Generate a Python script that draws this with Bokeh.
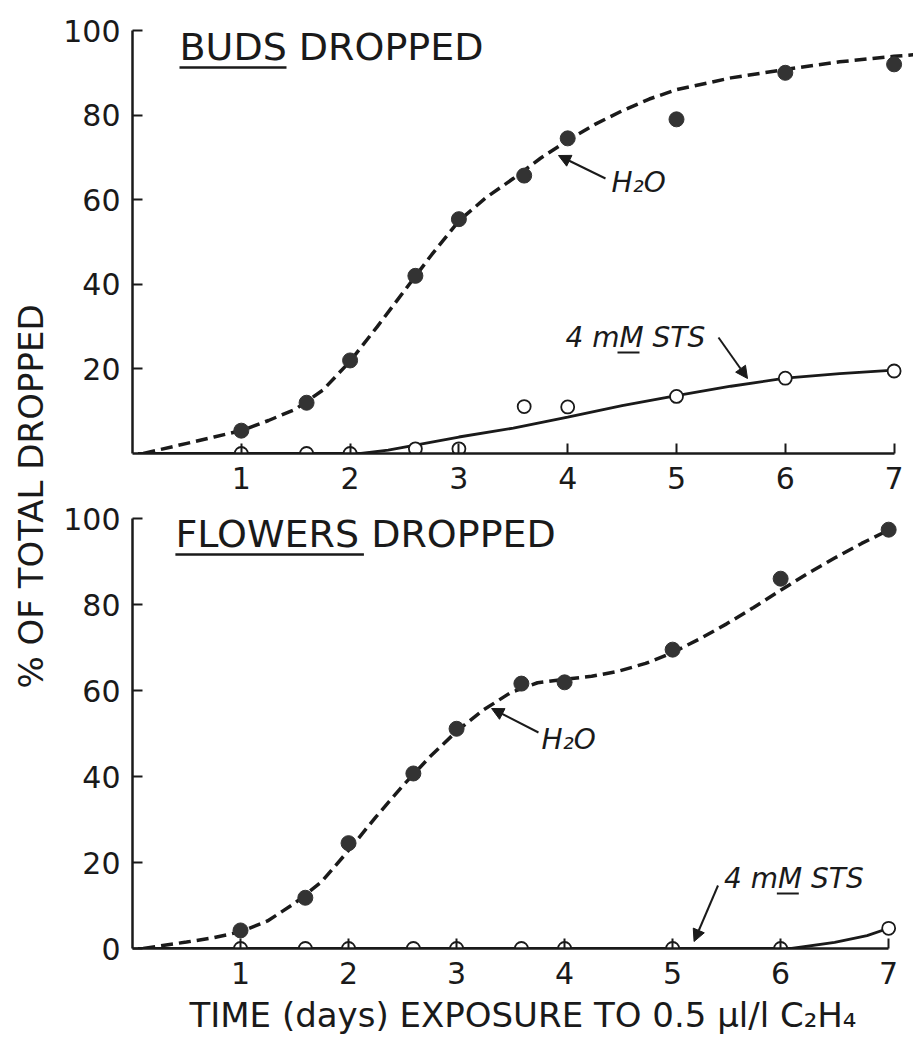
import math
from bokeh.plotting import figure
from bokeh.models import Range1d, Label, Arrow, NormalHead, FixedTicker
from bokeh.layouts import row, column
from bokeh.embed import file_html
from bokeh.resources import INLINE

# ---------------- data ----------------
days = [1, 1.6, 2, 2.6, 3, 3.6, 4, 5, 6, 7]
x_ticks = [1, 2, 3, 4, 5, 6, 7]
top_y_ticks = [20, 40, 60, 80, 100]
bottom_y_ticks = [0, 20, 40, 60, 80, 100]

buds_h2o = [5.4, 12.0, 22.0, 42.0, 55.4, 65.7, 74.5, 79.0, 90.0, 92.0]
buds_sts = [0.0, 0.0, 0.0, 1.1, 1.1, 11.1, 11.0, 13.5, 17.8, 19.5]
flowers_h2o = [4.2, 11.8, 24.5, 40.7, 51.1, 61.6, 61.9, 69.5, 86.0, 97.4]
flowers_sts = [0.0, 0.0, 0.0, 0.0, 0.0, 0.0, 0.0, 0.0, 0.0, 4.7]

# hand-drawn fitted curves of the original
buds_h2o_fit_x = [0.10, 0.25, 0.50, 0.75, 1.00, 1.25, 1.50, 1.75, 2.00, 2.25, 2.50, 2.75, 3.00,
                  3.25, 3.50, 3.75, 4.00, 4.25, 4.50, 4.75, 5.00, 5.50, 6.00, 6.50, 7.00, 7.25]
buds_h2o_fit_y = [0.0, 0.9, 2.4, 3.9, 5.4, 7.8, 10.5, 15.0, 21.8, 30.0, 38.5, 47.0, 55.0,
                  60.5, 65.0, 69.8, 74.0, 77.8, 81.0, 83.8, 86.0, 88.8, 90.8, 92.6, 93.9, 94.4]
buds_sts_fit_x = [0.05, 2.10, 2.35, 2.60, 3.00, 3.50, 4.00, 4.50, 5.00, 5.50, 6.00, 6.50, 7.00]
buds_sts_fit_y = [0.0, 0.0, 0.8, 2.0, 3.9, 6.0, 8.6, 11.3, 13.7, 15.9, 17.8, 18.9, 19.7]
flowers_h2o_fit_x = [0.10, 0.25, 0.50, 0.75, 1.00, 1.25, 1.50, 1.75, 2.00, 2.25, 2.50, 2.75, 3.00,
                     3.25, 3.50, 3.75, 4.00, 4.25, 4.50, 4.75, 5.00, 5.25, 5.50, 5.75, 6.00,
                     6.25, 6.50, 6.75, 7.00]
flowers_h2o_fit_y = [0.0, 0.6, 1.5, 2.5, 3.9, 6.4, 10.5, 15.5, 22.8, 30.5, 37.8, 44.5, 50.5,
                     55.5, 59.5, 61.8, 62.6, 63.3, 64.5, 66.3, 68.8, 72.0, 75.5, 79.3, 83.3,
                     87.2, 90.8, 94.2, 97.3]
flowers_sts_fit_x = [0.05, 6.10, 6.50, 6.80, 7.00]
flowers_sts_fit_y = [0.0, 0.0, 1.4, 3.0, 4.7]

FONT = "DejaVu Sans"
INK = "#1a1a1a"
DOT = "#333333"


def make_panel(width, height, x_end, y_end, left, top, bottom, yticks):
    p = figure(width=width, height=height,
               x_range=Range1d(0, x_end), y_range=Range1d(0, y_end),
               output_backend="svg", toolbar_location=None,
               min_border_left=left, min_border_right=0,
               min_border_top=top, min_border_bottom=bottom)
    p.grid.visible = False
    p.outline_line_color = None
    p.background_fill_color = "white"
    p.border_fill_color = "white"
    for ax in p.xaxis:
        ax.ticker = FixedTicker(ticks=x_ticks)
        ax.bounds = (0, 7)
    for ax in p.yaxis:
        ax.ticker = FixedTicker(ticks=yticks)
        ax.bounds = (0, 100)
    for ax in list(p.xaxis) + list(p.yaxis):
        ax.axis_line_width = 2.5
        ax.axis_line_color = INK
        ax.major_tick_line_width = 2
        ax.major_tick_line_color = INK
        ax.major_tick_in = 10
        ax.major_tick_out = 0
        ax.minor_tick_line_color = None
        ax.major_label_text_font = FONT
        ax.major_label_text_font_size = "30px"
        ax.major_label_text_color = INK
    p.xaxis.major_label_standoff = 13
    p.yaxis.major_label_standoff = 12
    return p


def draw(p, h2o_vals, sts_vals, h2o_fx, h2o_fy, sts_fx, sts_fy):
    p.line(h2o_fx, h2o_fy, line_color=INK, line_width=3.5, line_dash="12 6")
    p.line(sts_fx, sts_fy, line_color=INK, line_width=2.8)
    p.scatter(days, h2o_vals, size=15, marker="circle", fill_color=DOT, line_color=DOT)
    p.scatter(days, sts_vals, size=13, marker="circle", fill_color="white",
              line_color=INK, line_width=1.8)


def label(p, x, y, text, size, italic=False):
    p.add_layout(Label(x=x, y=y, text=text, text_font=FONT, text_font_size=f"{size}px",
                       text_font_style="italic" if italic else "normal",
                       text_color=INK, text_baseline="middle", text_align="left"))


def arrow(p, x0, y0, x1, y1):
    p.add_layout(Arrow(end=NormalHead(size=12, fill_color=INK, line_color=INK),
                       x_start=x0, y_start=y0, x_end=x1, y_end=y1,
                       line_color=INK, line_width=2))


MID = 0.346  # em-box middle above the baseline

# ---------------- top panel: buds ----------------
TX0, TDX, TY0, TDY = 132.0, 108.8, 453.0, 4.23
tx = lambda px: (px - TX0) / TDX
ty = lambda py: (TY0 - py) / TDY

top = make_panel(853, 501, (913 - TX0) / TDX, (TY0 - 16) / TDY, 72, 16, 48, top_y_ticks)
draw(top, buds_h2o, buds_sts, buds_h2o_fit_x, buds_h2o_fit_y, buds_sts_fit_x, buds_sts_fit_y)
label(top, tx(179), ty(60 - MID * 38), "BUDS DROPPED", 38)
top.segment(x0=[tx(179)], y0=[ty(67)], x1=[tx(286)], y1=[ty(67)], line_color=INK, line_width=2.5)
arrow(top, tx(605), ty(178), tx(558), ty(155))
label(top, tx(611), ty(192 - MID * 28), "H₂O", 28, italic=True)
label(top, tx(565), ty(347 - MID * 28), "4 mM STS", 28, italic=True)
top.segment(x0=[tx(617)], y0=[ty(352)], x1=[tx(639)], y1=[ty(352)], line_color=INK, line_width=2)
arrow(top, tx(718), ty(337), tx(747), ty(378))

# ---------------- bottom panel: flowers ----------------
BX0, BDX, BY0, BDY = 130.0, 108.3, 948.0, 4.30
bx = lambda px: (px - BX0) / BDX
by = lambda py: (BY0 - py) / BDY

bot = make_panel(853, 541, (913 - BX0) / BDX, (BY0 - 505) / BDY, 70, 4, 94, bottom_y_ticks)
draw(bot, flowers_h2o, flowers_sts, flowers_h2o_fit_x, flowers_h2o_fit_y,
     flowers_sts_fit_x, flowers_sts_fit_y)
bot.xaxis.axis_label = "TIME (days) EXPOSURE TO 0.5 μl/l C₂H₄"
bot.xaxis.axis_label_text_font = FONT
bot.xaxis.axis_label_text_font_size = "34px"
bot.xaxis.axis_label_text_font_style = "normal"
bot.xaxis.axis_label_text_color = INK
bot.xaxis.axis_label_standoff = 8
label(bot, bx(173), by(547 - MID * 38), "FLOWERS DROPPED", 38)
bot.segment(x0=[bx(173)], y0=[by(554)], x1=[bx(362)], y1=[by(554)], line_color=INK, line_width=2.5)
arrow(bot, bx(537), by(732), bx(490), by(708))
label(bot, bx(540), by(749 - MID * 28), "H₂O", 28, italic=True)
label(bot, bx(723), by(888 - MID * 28), "4 mM STS", 28, italic=True)
bot.segment(x0=[bx(776)], y0=[by(893)], x1=[bx(798)], y1=[by(893)], line_color=INK, line_width=2)
arrow(bot, bx(717), by(885), bx(693), by(941))

# ---------------- shared y-axis title ----------------
TOTAL_H = 501 + 541
ttl = figure(width=60, height=TOTAL_H, x_range=Range1d(0, 60), y_range=Range1d(0, TOTAL_H),
             x_axis_type=None, y_axis_type=None, min_border=0,
             output_backend="svg", toolbar_location=None)
ttl.grid.visible = False
ttl.outline_line_color = None
ttl.add_layout(Label(x=30, y=TOTAL_H - 496, text="% OF TOTAL DROPPED", angle=math.pi / 2,
                     text_align="center", text_baseline="middle", text_font=FONT,
                     text_font_size="34px", text_color=INK))

layout = row(ttl, column(top, bot))
open("out.html", "w").write(file_html(layout, INLINE))
